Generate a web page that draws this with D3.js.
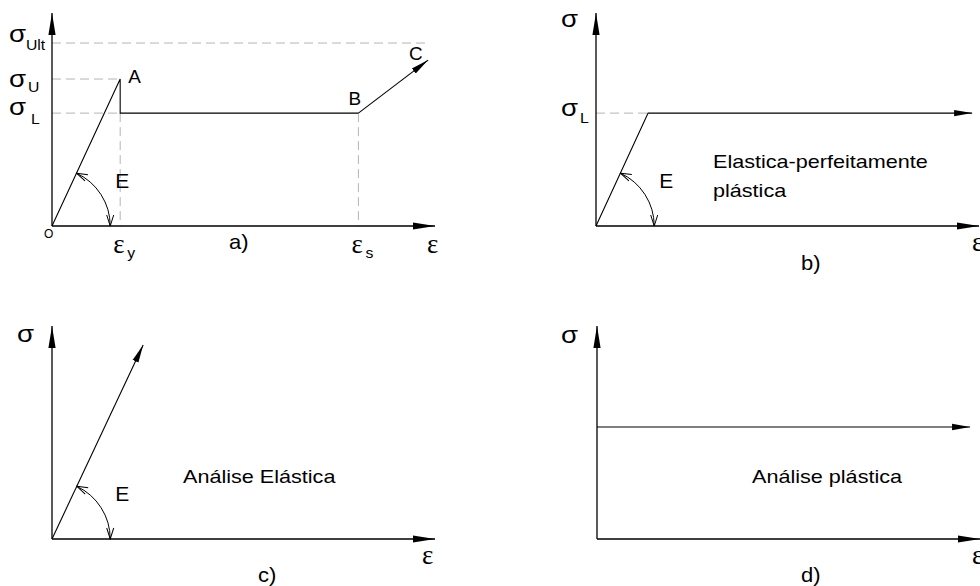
<!DOCTYPE html>
<html>
<head>
<meta charset="utf-8">
<script src="https://cdn.jsdelivr.net/npm/d3@7"></script>
<style>
  body { margin: 0; background: #fff; }
  svg { display: block; }
</style>
</head>
<body>
<svg id="chart" width="980" height="586"></svg>
<script>
// Idealised stress–strain diagrams for steel.
// Strain ε and stress σ are normalised 0–1 along each panel's axes.

const panelCaptions = ["a)", "b)", "c)", "d)"];

// a) real curve: O → A (upper yield) → drop to σL → plateau to B → hardening to C
const curveA = [[0, 0], [0.178, 0.69], [0.178, 0.53], [0.80, 0.53]];
const hardeningA = [[0.80, 0.53], [0.982, 0.779]];
const stressLevelsA = [0.859, 0.69, 0.53];      // σUlt, σU, σL
const stressSubscriptsA = ["Ult", "U", "L"];
const strainMarksA = [0.178, 0.80];              // εy, εs
const strainSubscriptsA = ["y", "s"];
const pointNamesA = ["A", "B", "C"];

// b) elastic – perfectly plastic
const curveB = [[0, 0], [0.136, 0.53], [0.982, 0.53]];
const stressLevelB = 0.53;
const noteB = ["Elastica-perfeitamente", "plástica"];

// c) linear elastic
const curveC = [[0, 0], [0.238, 0.911]];
const noteC = ["Análise Elástica"];

// d) rigid – plastic
const curveD = [[0, 0.526], [0.974, 0.526]];
const noteD = ["Análise plástica"];

// radius of the modulus arc, in strain units
const arcRadius = 0.152;

const svg = d3.select("#chart");
const SANS = "'Liberation Sans', Arial, Helvetica, sans-serif";
const SERIF = "'Liberation Serif', 'Times New Roman', serif";
const STRETCH = 1.2;

// ---- markers ----
const defs = svg.append("defs");
function filledArrow(id, len, half) {
  defs.append("marker")
    .attr("id", id)
    .attr("markerUnits", "userSpaceOnUse")
    .attr("viewBox", `${-len} ${-half - 1} ${len + 1} ${2 * half + 2}`)
    .attr("markerWidth", len + 1)
    .attr("markerHeight", 2 * half + 2)
    .attr("refX", 0).attr("refY", 0)
    .attr("orient", "auto")
    .append("path")
    .attr("d", `M${-len},${-half}L0,0L${-len},${half}Z`)
    .attr("fill", "#000");
}
filledArrow("axisHead", 22, 3.6);
filledArrow("lineHead", 18, 3.2);

defs.append("marker")
  .attr("id", "openHead")
  .attr("markerUnits", "userSpaceOnUse")
  .attr("viewBox", "-12 -5 13 10")
  .attr("markerWidth", 13).attr("markerHeight", 10)
  .attr("refX", 0).attr("refY", 0)
  .attr("orient", "auto-start-reverse")
  .append("path")
  .attr("d", "M-11,-3.5L0,0L-11,3.5")
  .attr("fill", "none").attr("stroke", "#000").attr("stroke-width", 1);

// ---- helpers ----
function text(g, x, y, str, size, opts = {}) {
  return g.append("text")
    .attr("transform", `translate(${x},${y}) scale(${opts.stretch ?? STRETCH},1)`)
    .attr("font-family", opts.family || SANS)
    .attr("font-size", size)
    .attr("fill", "#000")
    .text(str);
}

function makePanel(ox, oy) {
  const x = d3.scaleLinear().domain([0, 1]).range([ox, ox + 383]);
  const y = d3.scaleLinear().domain([0, 1]).range([oy, oy - 213]);
  const g = svg.append("g");
  return { x, y, g };
}

function axes(p) {
  const { x, y, g } = p;
  g.append("line")
    .attr("x1", x(0)).attr("y1", y(0)).attr("x2", x(1)).attr("y2", y(0))
    .attr("stroke", "#000").attr("stroke-width", 1.3)
    .attr("marker-end", "url(#axisHead)");
  g.append("line")
    .attr("x1", x(0)).attr("y1", y(0)).attr("x2", x(0)).attr("y2", y(1))
    .attr("stroke", "#000").attr("stroke-width", 1.3)
    .attr("marker-end", "url(#axisHead)");
}

function curve(p, pts, arrow) {
  const line = d3.line().x(d => p.x(d[0])).y(d => p.y(d[1]));
  const path = p.g.append("path")
    .attr("d", line(pts))
    .attr("fill", "none")
    .attr("stroke", "#000")
    .attr("stroke-width", 1.1);
  if (arrow) path.attr("marker-end", "url(#lineHead)");
  return path;
}

function dashed(p, x1, y1, x2, y2) {
  p.g.append("line")
    .attr("x1", p.x(x1)).attr("y1", p.y(y1))
    .attr("x2", p.x(x2)).attr("y2", p.y(y2))
    .attr("stroke", "#b4b4b4").attr("stroke-width", 1)
    .attr("stroke-dasharray", "9,5");
}

// arc between the elastic branch and the strain axis, labelled E
function modulusArc(p, slopePoint) {
  const cx = p.x(0), cy = p.y(0);
  const r = p.x(arcRadius) - p.x(0);
  const dx = p.x(slopePoint[0]) - cx, dy = cy - p.y(slopePoint[1]);
  const th = Math.atan2(dy, dx);
  const sx = cx + r * Math.cos(th), sy = cy - r * Math.sin(th);
  p.g.append("path")
    .attr("d", `M${sx},${sy}A${r},${r} 0 0 1 ${cx + r},${cy}`)
    .attr("fill", "none").attr("stroke", "#000").attr("stroke-width", 1)
    .attr("marker-start", "url(#openHead)")
    .attr("marker-end", "url(#openHead)");
  text(p.g, cx + r + 5, cy - 38, "E", 20, { stretch: 1.05 });
}

function sigmaLabel(g, x, y, sub, subDx, subDy) {
  text(g, x, y, "σ", 23);
  if (sub) text(g, x + subDx, y + subDy, sub, 15, { stretch: 1.05 });
}
function epsLabel(g, x, y, sub) {
  text(g, x, y, "ε", 27, { family: SERIF, stretch: 1 });
  if (sub) text(g, x + 14, y + 5, sub, 15, { stretch: 1.05 });
}

// ================= a) =================
const pa = makePanel(52, 226);
// guide lines
dashed(pa, 0, stressLevelsA[0], hardeningA[1][0], stressLevelsA[0]);
dashed(pa, 0, stressLevelsA[1], strainMarksA[0], stressLevelsA[1]);
dashed(pa, 0, stressLevelsA[2], strainMarksA[0], stressLevelsA[2]);
strainMarksA.forEach(e => dashed(pa, e, stressLevelsA[2], e, 0));
axes(pa);
curve(pa, curveA, false);
curve(pa, hardeningA, true);
modulusArc(pa, curveA[1]);

// stress labels: [baseline offset, subscript dx, subscript dy]
const sigOffsetsA = [[-1, 17, 8], [8, 19, 5], [2, 22, 9]];
stressLevelsA.forEach((v, i) => {
  const o = sigOffsetsA[i];
  sigmaLabel(pa.g, 9, pa.y(v) + o[0], stressSubscriptsA[i], o[1], o[2]);
});
// strain labels
strainMarksA.forEach((v, i) => epsLabel(pa.g, pa.x(v) - 7, pa.y(0) + 27, strainSubscriptsA[i]));
epsLabel(pa.g, 427, pa.y(0) + 27);
// point names
text(pa.g, pa.x(curveA[1][0]) + 8, pa.y(curveA[1][1]) + 4, pointNamesA[0], 18, { stretch: 1.05 });
text(pa.g, pa.x(curveA[3][0]) - 10, pa.y(curveA[3][1]) - 8, pointNamesA[1], 18, { stretch: 1.05 });
text(pa.g, pa.x(hardeningA[1][0]) - 19, pa.y(hardeningA[1][1]), pointNamesA[2], 18, { stretch: 1.05 });
text(pa.g, 44, 238, "O", 12, { stretch: 1 });
text(pa.g, 229, 249, panelCaptions[0], 20, { stretch: 1.1 });

// ================= b) =================
const pb = makePanel(596, 226);
dashed(pb, 0, stressLevelB, curveB[1][0], stressLevelB);
axes(pb);
curve(pb, curveB, true);
modulusArc(pb, curveB[1]);
sigmaLabel(pb.g, 561, 27);
sigmaLabel(pb.g, 561, pb.y(stressLevelB) + 3, "L", 19, 7);
epsLabel(pb.g, 972, 251);
noteB.forEach((t, i) => text(pb.g, 713, 168 + i * 29, t, 18));
text(pb.g, 801, 270, panelCaptions[1], 20, { stretch: 1.1 });

// ================= c) =================
const pc = makePanel(52, 539);
axes(pc);
curve(pc, curveC, true);
modulusArc(pc, curveC[1]);
sigmaLabel(pc.g, 17, 342);
epsLabel(pc.g, 422, 564);
noteC.forEach(t => text(pc.g, 183, 483, t, 18));
text(pc.g, 258, 582, panelCaptions[2], 20, { stretch: 1.1 });

// ================= d) =================
const pd = makePanel(597, 539);
axes(pd);
curve(pd, curveD, true);
sigmaLabel(pd.g, 561, 343);
epsLabel(pd.g, 972, 564);
noteD.forEach(t => text(pd.g, 752, 483, t, 18));
text(pd.g, 801, 582, panelCaptions[3], 20, { stretch: 1.1 });
</script>
</body>
</html>
